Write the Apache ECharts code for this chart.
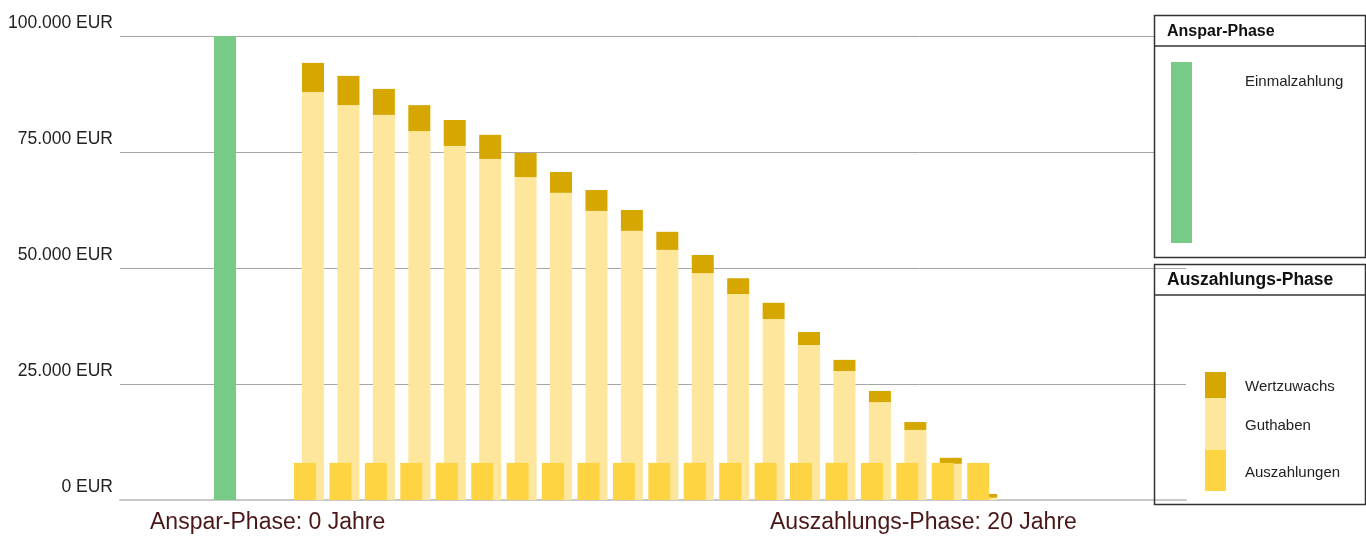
<!DOCTYPE html>
<html>
<head>
<meta charset="utf-8">
<title>Auszahlplan</title>
<script src="https://cdn.jsdelivr.net/npm/echarts@6/dist/echarts.min.js"></script>
<style>
  html, body { margin: 0; padding: 0; background: #fff; }
  #chart { width: 1366px; height: 538px; }
</style>
</head>
<body>
<div id="chart"></div>
<script>
  // Anspar-Phase (Jahr 0)
  var ansparYears = [0]
  var einmalzahlung = [100000]

  // Auszahlungs-Phase (Jahre 1..20)
  var payoutYears = ['1', '2', '3', '4', '5', '6', '7', '8', '9', '10',
                     '11', '12', '13', '14', '15', '16', '17', '18', '19', '20']
  var auszahlungen = [8000, 8000, 8000, 8000, 8000, 8000, 8000, 8000, 8000, 8000,
                      8000, 8000, 8000, 8000, 8000, 8000, 8000, 8000, 8000, 8000]
  var guthaben = [87900, 85100, 83000, 79500, 76300, 73500, 69600, 66200, 62300, 58000,
                  53900, 48900, 44400, 39000, 33400, 27800, 21100, 15100, 7800, 500]
  var wertzuwachs = [6300, 6300, 5600, 5600, 5600, 5200, 5200, 4500, 4500, 4500,
                     3900, 3900, 3400, 3500, 2800, 2400, 2400, 1700, 1300, 800]

  var yTicks = [0, 25000, 50000, 75000, 100000]
  var yTickLabels = ['0 EUR', '25.000 EUR', '50.000 EUR', '75.000 EUR', '100.000 EUR']

  var fontFamily = '"Liberation Sans", Arial, sans-serif'
  var colGreen = '#78cb86'
  var colAus = '#fed443'
  var colGut = '#fee69c'
  var colWz = '#d5a700'

  function pairs(xs, ys) {
    var out = []
    for (var i = 0; i < xs.length; i++) out.push([xs[i], ys[i]])
    return out
  }

  var chart = echarts.init(document.getElementById('chart'), null, {renderer: 'canvas'})

  chart.setOption({
    animation: false,
    backgroundColor: '#fff',
    grid: [
      // Hauptraster mit Achse + Anspar-Phase
      {left: 120, right: 180, top: 36, bottom: 38},
      // Auszahlungs-Phase, 20 Jahre
      {left: 291.3, right: 366.1, top: 36, bottom: 38}
    ],
    xAxis: [{
      type: 'value',
      gridIndex: 0,
      min: -2.964,
      max: 27.124,
      axisLine: {show: true, onZero: false, lineStyle: {color: '#c8c8c8', width: 2}},
      axisTick: {show: false},
      axisLabel: {show: false},
      splitLine: {show: false}
    }, {
      type: 'category',
      gridIndex: 1,
      data: payoutYears,
      show: false
    }],
    yAxis: [{
      type: 'value',
      gridIndex: 0,
      min: 0,
      max: 100000,
      interval: 25000,
      axisLine: {show: false},
      axisTick: {show: false},
      splitLine: {
        show: true,
        lineStyle: {color: '#a6a6a6', width: 1}
      },
      axisLabel: {
        margin: 7,
        color: '#222',
        fontSize: 17.5,
        fontFamily: fontFamily,
        verticalAlign: 'bottom',
        lineHeight: 25,
        formatter: function (value) {
          var idx = yTicks.indexOf(value)
          return idx >= 0 ? yTickLabels[idx] : ''
        }
      }
    }, {
      type: 'value',
      gridIndex: 1,
      min: 0,
      max: 100000,
      show: false,
      splitLine: {show: false}
    }],
    series: [{
      name: 'Einmalzahlung',
      type: 'bar',
      xAxisIndex: 0,
      yAxisIndex: 0,
      barWidth: 22,
      itemStyle: {color: colGreen},
      data: pairs(ansparYears, einmalzahlung)
    }, {
      name: 'Auszahlungen',
      type: 'bar',
      xAxisIndex: 1,
      yAxisIndex: 1,
      barWidth: 22,
      barGap: '-63.6%',
      z: 3,
      itemStyle: {color: colAus},
      data: auszahlungen
    }, {
      name: 'Guthaben',
      type: 'bar',
      xAxisIndex: 1,
      yAxisIndex: 1,
      stack: 'payout',
      barWidth: 22,
      barGap: '-63.6%',
      itemStyle: {color: colGut},
      data: guthaben
    }, {
      name: 'Wertzuwachs',
      type: 'bar',
      xAxisIndex: 1,
      yAxisIndex: 1,
      stack: 'payout',
      barWidth: 22,
      barGap: '-63.6%',
      itemStyle: {color: colWz},
      data: wertzuwachs
    }],
    graphic: [
      // Phasen-Beschriftung unten
      {type: 'text', left: 150, top: 511, z: 10,
        style: {text: 'Anspar-Phase: 0 Jahre', fill: '#4a1616', font: '23px ' + fontFamily}},
      {type: 'text', left: 770, top: 511, z: 10,
        style: {text: 'Auszahlungs-Phase: 20 Jahre', fill: '#4a1616', font: '23px ' + fontFamily}},

      // Legende Anspar-Phase
      {type: 'rect', z: 10, shape: {x: 1154.5, y: 15.5, width: 211, height: 242},
        style: {fill: '#fff', stroke: '#333', lineWidth: 1.5}},
      {type: 'line', z: 11, shape: {x1: 1154.5, y1: 46, x2: 1365.5, y2: 46},
        style: {stroke: '#333', lineWidth: 1.5}},
      {type: 'text', z: 11, left: 1167, top: 24,
        style: {text: 'Anspar-Phase', fill: '#111', font: 'bold 16px ' + fontFamily}},
      {type: 'rect', z: 11, shape: {x: 1171, y: 62, width: 21, height: 181}, style: {fill: colGreen}},
      {type: 'text', z: 11, left: 1245, top: 74,
        style: {text: 'Einmalzahlung', fill: '#222', font: '15px ' + fontFamily}},

      // Legende Auszahlungs-Phase
      {type: 'rect', z: 10, shape: {x: 1154.5, y: 264.5, width: 211, height: 240},
        style: {fill: 'none', stroke: '#333', lineWidth: 1.5}},
      {type: 'line', z: 11, shape: {x1: 1154.5, y1: 295, x2: 1365.5, y2: 295},
        style: {stroke: '#333', lineWidth: 1.5}},
      {type: 'text', z: 11, left: 1167, top: 271,
        style: {text: 'Auszahlungs-Phase', fill: '#111', font: 'bold 17.5px ' + fontFamily}},
      {type: 'rect', z: 11, shape: {x: 1205, y: 372, width: 21, height: 26}, style: {fill: colWz}},
      {type: 'rect', z: 11, shape: {x: 1205, y: 398, width: 21, height: 52}, style: {fill: colGut}},
      {type: 'rect', z: 11, shape: {x: 1205, y: 450, width: 21, height: 41}, style: {fill: colAus}},
      {type: 'text', z: 11, left: 1245, top: 379,
        style: {text: 'Wertzuwachs', fill: '#222', font: '15px ' + fontFamily}},
      {type: 'text', z: 11, left: 1245, top: 418,
        style: {text: 'Guthaben', fill: '#222', font: '15px ' + fontFamily}},
      {type: 'text', z: 11, left: 1245, top: 465,
        style: {text: 'Auszahlungen', fill: '#222', font: '15px ' + fontFamily}}
    ]
  })

  window.addEventListener('resize', function () {
    chart.resize()
  })
</script>
</body>
</html>
